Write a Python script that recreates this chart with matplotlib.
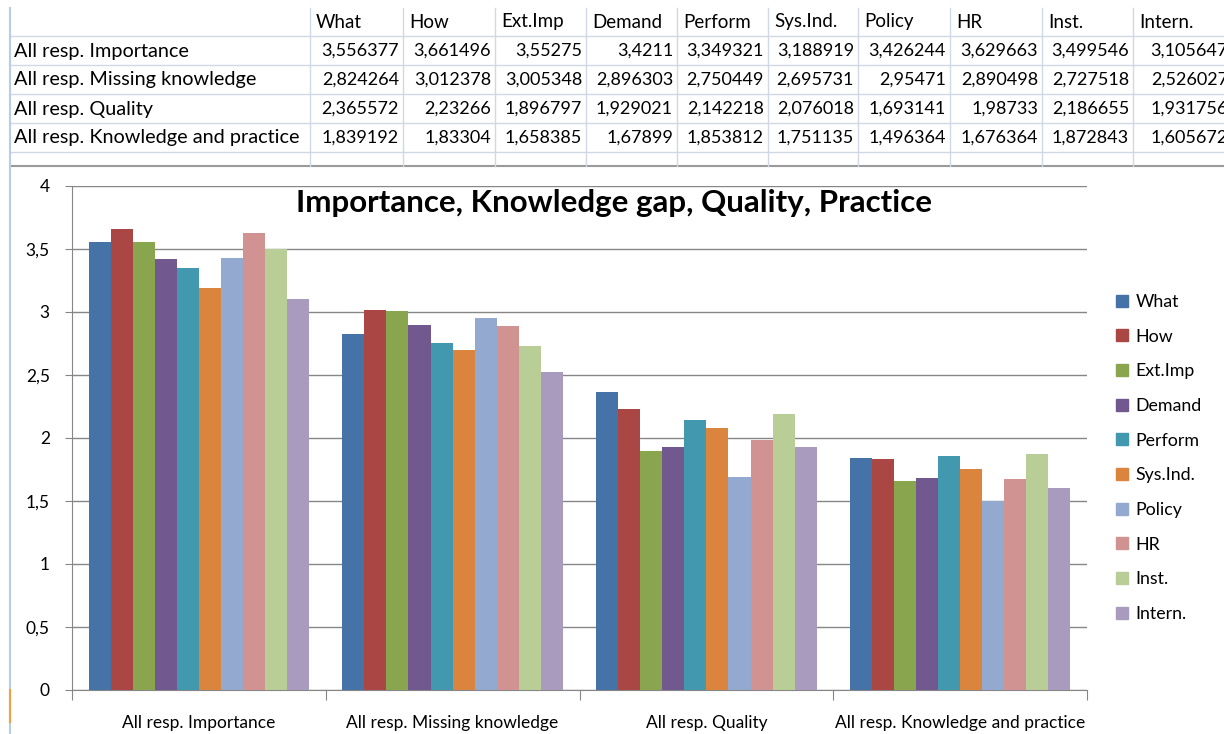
import numpy as np
import matplotlib.pyplot as plt
from matplotlib.patches import Patch
from matplotlib.ticker import FuncFormatter

categories = ["All resp. Importance", "All resp. Missing knowledge",
              "All resp. Quality", "All resp. Knowledge and practice"]
series = ["What", "How", "Ext.Imp", "Demand", "Perform", "Sys.Ind.",
          "Policy", "HR", "Inst.", "Intern."]

what = [3.556377, 2.824264, 2.365572, 1.839192]
how = [3.661496, 3.012378, 2.23266, 1.83304]
ext_imp = [3.55275, 3.005348, 1.896797, 1.658385]
demand = [3.4211, 2.896303, 1.929021, 1.67899]
perform = [3.349321, 2.750449, 2.142218, 1.853812]
sys_ind = [3.188919, 2.695731, 2.076018, 1.751135]
policy = [3.426244, 2.95471, 1.693141, 1.496364]
hr = [3.629663, 2.890498, 1.98733, 1.676364]
inst = [3.499546, 2.727518, 2.186655, 1.872843]
intern = [3.105647, 2.526027, 1.931756, 1.605672]

values = [what, how, ext_imp, demand, perform, sys_ind, policy, hr, inst, intern]
colors = ["#4572A7", "#AA4643", "#89A54E", "#71588F", "#4198AF",
          "#DB843D", "#93A9CF", "#D19392", "#B9CD96", "#A99BBD"]

plt.rcParams['font.family'] = ['Lato', 'DejaVu Sans']

W, H = 1224, 734
fig = plt.figure(figsize=(W / 100, H / 100), dpi=100)

# spreadsheet grid in pixel coordinates
bg = fig.add_axes([0, 0, 1, 1])
bg.set_xlim(0, W)
bg.set_ylim(H, 0)
bg.axis("off")

# last column runs past the right edge of the screenshot
col_edges = [310, 403, 495, 586, 677, 768, 858, 950, 1042, 1133, 1232]
row_lines = [36, 65, 94, 123, 152]
grid_c = "#d0d7e5"
for y in row_lines:
    bg.plot([10, W], [y, y], color=grid_c, lw=1)
bg.plot([10, W], [166, 166], color="#9a9a9a", lw=1.5)
for x in col_edges[:-1]:
    bg.plot([x, x], [8, 166], color=grid_c, lw=1)
bg.plot([10, 10], [8, H], color="#b8cce4", lw=1.5)
bg.plot([10, 10], [690, 722], color="#f0a040", lw=1.5)

header_y = 22
row_y = [51, 80, 109, 138]
for j, name in enumerate(series):
    bg.text(col_edges[j] + 6, header_y, name, fontsize=13.5, va="center", ha="left")
for i, cat in enumerate(categories):
    bg.text(14, row_y[i], cat, fontsize=14.3, va="center", ha="left")
    for j in range(len(series)):
        s = f"{values[j][i]:.6f}".rstrip("0").replace(".", ",")
        bg.text(col_edges[j + 1] - 4, row_y[i], s, fontsize=13,
                va="center", ha="right", clip_on=True)

# chart
ax = fig.add_axes([72 / W, (H - 690) / H, (1087 - 72) / W, (690 - 186) / H])
n = len(series)
bw = 1 / (n + 1.5)
x = np.arange(len(categories))
for j in range(n):
    ax.bar(x - n * bw / 2 + (j + 0.5) * bw, values[j], width=bw,
           color=colors[j], zorder=3)

ax.set_xlim(-0.5, len(categories) - 0.5)
ax.set_ylim(0, 4)
ax.set_yticks(np.arange(0, 4.01, 0.5))
ax.yaxis.set_major_formatter(FuncFormatter(lambda v, p: f"{v:g}".replace(".", ",")))
ax.yaxis.grid(True, color="#868686", lw=1, zorder=0)
ax.set_xticks(np.arange(-0.5, len(categories), 1))
ax.set_xticklabels([])
ax.set_xticks(x, minor=True)
ax.set_xticklabels(categories, minor=True, fontsize=12.5)
ax.tick_params(axis="x", which="minor", length=0, pad=18)
ax.tick_params(axis="x", which="major", length=7, color="#868686")
ax.tick_params(axis="y", length=5, color="#868686", labelsize=12.5, pad=11)
for side in ["top", "right"]:
    ax.spines[side].set_visible(False)
for side in ["left", "bottom"]:
    ax.spines[side].set_color("#868686")
ax.set_facecolor("none")

fig.text(614 / W, 1 - 203 / H, "Importance, Knowledge gap, Quality, Practice",
         fontsize=22.5, fontweight="bold", ha="center", va="center")

handles = [Patch(color=c, label=s) for c, s in zip(colors, series)]
fig.legend(handles=handles, loc="upper left", bbox_to_anchor=(1116 / W, 1 - 294 / H),
           frameon=False, fontsize=12.8, handlelength=0.65, handleheight=0.65,
           handletextpad=0.45, labelspacing=1.05, borderaxespad=0, borderpad=0)

fig.savefig("out.png", dpi=100)
